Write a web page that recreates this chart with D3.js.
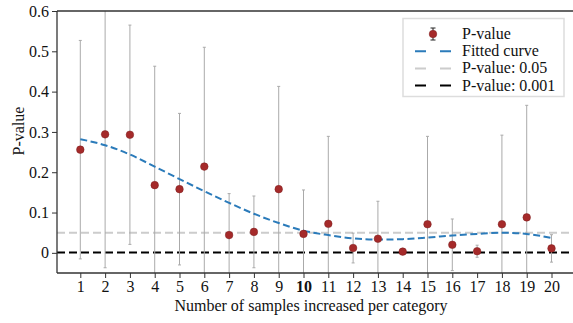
<!DOCTYPE html>
<html lang="en">
<head>
    <meta charset="UTF-8">
    <title>P-value chart</title>
    <script src="https://cdn.jsdelivr.net/npm/d3@7"></script>
    <style>
        body { margin: 0; background: #fff; }
        svg text { font-family: "Liberation Serif", "Times New Roman", serif; fill: #111; }
    </style>
</head>
<body>
    <svg width="573" height="323"></svg>
<script>
    // data
    var samples = d3.range(1, 21);
    var pValues = [0.256, 0.294, 0.293, 0.168, 0.158, 0.214, 0.044, 0.052, 0.158, 0.047,
                   0.072, 0.012, 0.035, 0.003, 0.071, 0.020, 0.004, 0.071, 0.088, 0.011];
    var pErrors = [0.271, 0.331, 0.272, 0.295, 0.188, 0.296, 0.103, 0.089, 0.255, 0.109,
                   0.217, 0.037, 0.093, 0.002, 0.218, 0.064, 0.015, 0.221, 0.278, 0.034];
    var fitted = [0.282, 0.267, 0.244, 0.214, 0.183, 0.153, 0.124, 0.097, 0.074, 0.055,
                  0.044, 0.036, 0.033, 0.034, 0.038, 0.043, 0.047, 0.050, 0.047, 0.037];
    var yTicks = [0, 0.1, 0.2, 0.3, 0.4, 0.5, 0.6];
    var refLines = [{ v: 0.05, color: "#cccccc", label: "P-value: 0.05" },
                    { v: 0.001, color: "#000000", label: "P-value: 0.001" }];

    var svg = d3.select("svg");
    var mLeft = 57, mTop = 11, mBottom = 273, W = 573;

    var x = d3.scaleLinear().domain([0.06, 20.94]).range([mLeft, mLeft + 20.88 * 24.8]);
    var y = d3.scaleLinear().domain([-0.05, 0.6]).range([mBottom, mTop]);

    svg.append("defs").append("clipPath")
        .attr("id", "clip")
        .append("rect")
        .attr("x", mLeft).attr("y", mTop)
        .attr("width", W - mLeft).attr("height", mBottom - mTop);

    var plot = svg.append("g").attr("clip-path", "url(#clip)");

    // reference lines
    plot.selectAll(".ref")
        .data(refLines)
        .enter().append("line")
        .attr("x1", mLeft).attr("x2", W)
        .attr("y1", function (d) { return y(d.v); })
        .attr("y2", function (d) { return y(d.v); })
        .attr("stroke", function (d) { return d.color; })
        .attr("stroke-width", 2)
        .attr("stroke-dasharray", "8,4");

    // error bars
    var eb = plot.append("g").attr("stroke", "#aaaaaa").attr("stroke-width", 1);
    samples.forEach(function (s, i) {
        var hi = pValues[i] + pErrors[i], lo = pValues[i] - pErrors[i];
        eb.append("line").attr("x1", x(s)).attr("x2", x(s)).attr("y1", y(hi)).attr("y2", y(lo));
        eb.append("line").attr("x1", x(s) - 1.5).attr("x2", x(s) + 1.5).attr("y1", y(hi)).attr("y2", y(hi));
        eb.append("line").attr("x1", x(s) - 1.5).attr("x2", x(s) + 1.5).attr("y1", y(lo)).attr("y2", y(lo));
    });

    // fitted curve
    var line = d3.line()
        .x(function (d, i) { return x(samples[i]); })
        .y(function (d) { return y(d); })
        .curve(d3.curveMonotoneX);
    plot.append("path")
        .datum(fitted)
        .attr("d", line)
        .attr("fill", "none")
        .attr("stroke", "#2b7bba")
        .attr("stroke-width", 2)
        .attr("stroke-dasharray", "7,3.5");

    // points
    plot.selectAll(".pt")
        .data(pValues)
        .enter().append("circle")
        .attr("cx", function (d, i) { return x(samples[i]); })
        .attr("cy", function (d) { return y(d); })
        .attr("r", 3.8)
        .attr("fill", "#a52a2a")
        .attr("stroke", "#7d1e1e")
        .attr("stroke-width", 0.5);

    // axes
    var xAxis = svg.append("g")
        .attr("transform", "translate(0," + mBottom + ")")
        .call(d3.axisBottom(x).tickValues(samples).tickSize(5).tickPadding(3));
    xAxis.selectAll("text")
        .attr("font-size", 16)
        .attr("font-weight", function (d) { return d === 10 ? "bold" : "normal"; });

    var yAxis = svg.append("g")
        .attr("transform", "translate(" + mLeft + ",0)")
        .call(d3.axisLeft(y).tickValues(yTicks).tickSize(5).tickPadding(3)
            .tickFormat(function (d) { return d === 0 ? "0" : d3.format(".1f")(d); }));
    yAxis.selectAll("text").attr("font-size", 16);

    [xAxis, yAxis].forEach(function (a) {
        a.select(".domain").remove();
        a.selectAll("line").attr("stroke", "#333").attr("stroke-width", 1);
    });

    // spines
    svg.append("line").attr("x1", mLeft).attr("x2", W).attr("y1", mTop).attr("y2", mTop)
        .attr("stroke", "#333").attr("stroke-width", 1.3);
    svg.append("line").attr("x1", mLeft).attr("x2", W).attr("y1", mBottom).attr("y2", mBottom)
        .attr("stroke", "#333").attr("stroke-width", 1.3);
    svg.append("line").attr("x1", mLeft).attr("x2", mLeft).attr("y1", mTop).attr("y2", mBottom)
        .attr("stroke", "#333").attr("stroke-width", 1.3);

    // labels
    svg.append("text")
        .attr("x", 311).attr("y", 311)
        .attr("text-anchor", "middle")
        .attr("font-size", 16)
        .text("Number of samples increased per category");
    svg.append("text")
        .attr("transform", "translate(24,131) rotate(-90)")
        .attr("text-anchor", "middle")
        .attr("font-size", 16)
        .text("P-value");

    // legend
    var lg = svg.append("g");
    lg.append("rect")
        .attr("x", 403).attr("y", 18.5).attr("width", 161).attr("height", 78)
        .attr("fill", "#fff").attr("fill-opacity", 0.85)
        .attr("stroke", "#dddddd").attr("stroke-width", 1.5);
    var items = [{ label: "P-value", type: "point" },
                 { label: "Fitted curve", type: "line", color: "#2b7bba" },
                 { label: refLines[0].label, type: "line", color: refLines[0].color },
                 { label: refLines[1].label, type: "line", color: refLines[1].color }];
    items.forEach(function (d, i) {
        var cy = 34 + i * 17.2;
        if (d.type === "point") {
            lg.append("line").attr("x1", 433).attr("x2", 433).attr("y1", cy - 6).attr("y2", cy + 6)
                .attr("stroke", "#222").attr("stroke-width", 1);
            lg.append("line").attr("x1", 430.5).attr("x2", 435.5).attr("y1", cy - 6).attr("y2", cy - 6)
                .attr("stroke", "#222").attr("stroke-width", 1);
            lg.append("line").attr("x1", 430.5).attr("x2", 435.5).attr("y1", cy + 6).attr("y2", cy + 6)
                .attr("stroke", "#222").attr("stroke-width", 1);
            lg.append("circle").attr("cx", 433).attr("cy", cy).attr("r", 3.8)
                .attr("fill", "#a52a2a").attr("stroke", "#7d1e1e").attr("stroke-width", 0.5);
        } else {
            lg.append("line").attr("x1", 415).attr("x2", 451).attr("y1", cy).attr("y2", cy)
                .attr("stroke", d.color).attr("stroke-width", 2)
                .attr("stroke-dasharray", "11,14");
        }
        lg.append("text")
            .attr("x", 462).attr("y", cy + 5)
            .attr("font-size", 16)
            .text(d.label);
    });
</script>
</body>
</html>
